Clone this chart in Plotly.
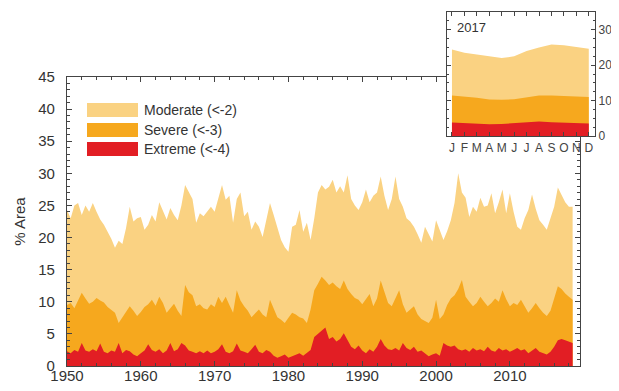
import plotly.graph_objects as go

# half-year steps from 1950.0; each row is five years (10 values)
moderate = [
    24.3, 23.0, 25.0, 25.4, 23.5, 25.0, 24.0, 25.4, 24.0, 22.8,
    22.0, 21.0, 19.8, 18.4, 19.5, 19.0, 21.5, 24.8, 22.5, 23.0,
    23.2, 21.2, 22.0, 23.5, 22.5, 25.5, 24.0, 22.8, 24.6, 23.5,
    22.7, 25.0, 28.2, 27.0, 26.0, 22.3, 23.8, 23.3, 24.0, 24.8,
    24.0, 26.0, 28.2, 25.9, 26.5, 22.3, 26.0, 27.0, 23.3, 24.0,
    21.2, 22.5, 21.7, 20.1, 22.5, 25.4, 23.5, 21.7, 19.6, 18.5,
    17.8, 21.7, 22.0, 24.3, 20.9, 22.3, 19.6, 23.0, 27.0, 28.2,
    27.5, 27.9, 29.0, 27.0, 28.0, 27.0, 29.7, 26.0, 25.0, 24.3,
    25.5, 27.5, 25.5, 26.5, 27.0, 29.5, 26.5, 24.3, 26.0, 29.5,
    26.0, 24.8, 23.0, 22.5, 21.7, 20.5, 19.2, 21.7, 20.5, 19.4,
    22.7, 21.0, 19.6, 21.0, 22.7, 25.4, 30.0, 27.0, 26.2, 23.2,
    24.8, 24.0, 26.2, 24.8, 25.0, 26.9, 23.8, 25.5, 27.5, 23.8,
    26.9, 24.0, 21.7, 21.2, 23.0, 24.3, 26.7, 24.5, 22.7, 22.0,
    21.2, 23.0, 24.8, 27.8, 26.7, 25.5, 24.8, 24.8,
]
severe = [
    9.5, 9.8, 9.0, 10.2, 11.4, 10.5, 9.7, 10.0, 10.6, 10.2,
    9.9, 9.2, 8.8, 8.3, 6.7, 7.6, 8.3, 9.3, 8.6, 7.8,
    8.4, 9.2, 9.6, 10.3, 9.4, 10.8, 9.8, 8.3, 9.0, 9.7,
    8.6, 7.8, 12.6, 11.5, 11.0, 9.3, 9.6, 9.0, 8.8, 9.6,
    9.2, 10.8, 9.8, 10.8, 9.5, 8.3, 11.8, 10.2, 9.3, 8.6,
    7.6, 8.2, 8.8, 8.0, 7.6, 10.3, 8.8, 7.6, 7.2, 6.7,
    7.5, 8.3, 8.0, 7.6, 7.4, 6.7, 8.8, 11.8, 12.8, 13.9,
    13.3, 12.6, 13.0, 12.4, 12.0, 13.3, 12.0, 11.2, 10.6, 10.3,
    9.6, 10.5, 11.2, 9.3, 10.5, 13.3, 11.5, 9.8, 9.3, 10.5,
    11.8, 9.6, 8.3, 8.8, 9.3, 8.0, 7.3, 7.0, 6.7, 7.5,
    10.3, 7.3, 8.0, 9.5, 10.5, 11.0, 12.0, 13.4, 10.8, 10.0,
    9.3, 9.8, 10.8, 10.0, 9.3, 9.8, 10.5, 10.0, 11.8, 10.4,
    9.3, 9.8, 9.5, 10.3, 9.4, 8.3, 9.0, 9.8, 9.0, 8.3,
    7.8, 8.6, 10.5, 12.4, 12.0, 11.3, 10.8, 10.3,
]
extreme = [
    2.3, 2.0, 2.5, 2.2, 3.6, 2.4, 2.2, 2.6, 2.3, 3.5,
    2.2, 2.0, 2.4, 2.2, 3.6, 2.0, 2.5, 2.3, 1.8, 1.5,
    2.0, 2.4, 3.4, 2.5, 2.2, 2.6, 2.0, 2.4, 3.6, 2.3,
    2.6, 3.6, 3.2, 2.4, 2.2, 2.0, 2.3, 2.0, 2.4, 2.0,
    2.2, 2.6, 3.4, 2.2, 2.0, 2.3, 3.5, 2.4, 2.2, 2.0,
    2.6, 3.3, 2.2, 2.0, 2.5, 2.2, 1.6, 1.3, 1.5, 1.8,
    1.3, 1.5, 1.8, 2.0, 1.6, 2.0, 2.5, 4.5, 5.0, 5.6,
    6.0, 4.2, 4.5, 3.8, 4.2, 5.1, 4.0, 3.0, 2.6, 3.2,
    2.4, 2.0, 2.6, 2.2, 3.0, 4.2, 3.2, 2.6, 2.5, 2.8,
    2.4, 3.6, 2.8, 2.5, 3.0, 2.2, 2.4, 2.0, 1.5, 1.8,
    2.0, 1.6, 3.6, 3.2, 3.0, 3.2, 2.6, 2.4, 2.6, 2.2,
    2.8, 2.4, 2.6, 2.3, 3.0, 2.4, 2.2, 2.8, 2.4, 2.6,
    2.2, 2.5, 2.8, 2.4, 2.6, 2.0, 2.4, 2.8, 2.2, 2.0,
    1.8, 2.2, 3.0, 4.0, 4.2, 4.0, 3.8, 3.6,
]
years = [1950 + 0.5 * i for i in range(len(moderate))]

months = list(range(1, 13))
month_labels = ['J', 'F', 'M', 'A', 'M', 'J', 'J', 'A', 'S', 'O', 'N', 'D']
moderate_2017 = [24.4, 23.5, 23.0, 22.5, 22.0, 22.5, 24.0, 25.0, 25.8, 25.6, 25.2, 24.6]
severe_2017 = [11.4, 11.2, 10.8, 10.3, 10.2, 10.4, 11.0, 11.4, 11.4, 11.3, 11.2, 11.0]
extreme_2017 = [3.8, 3.6, 3.4, 3.3, 3.4, 3.7, 4.0, 4.1, 3.9, 3.8, 3.6, 3.5]

names = ['Moderate (<-2)', 'Severe (<-3)', 'Extreme (<-4)']
colors = ['#FAD282', '#F6A81E', '#E21E24']

fig = go.Figure()
for ys, c in zip([moderate, severe, extreme], colors):
    fig.add_trace(go.Scatter(x=years, y=ys, fill='tozeroy', fillcolor=c, mode='lines',
                             line=dict(width=0, color=c), showlegend=False,
                             xaxis='x', yaxis='y'))
for ys, c in zip([moderate_2017, severe_2017, extreme_2017], colors):
    fig.add_trace(go.Scatter(x=months, y=ys, fill='tozeroy', fillcolor=c, mode='lines',
                             line=dict(width=0, color=c), showlegend=False,
                             xaxis='x2', yaxis='y2'))

# the page body adds an 8px margin, so the figure is 8px smaller and
# window pixel positions are shifted by 8 before turning into paper fractions
OFF = 8
W, H = 619 - OFF, 391 - OFF
def fx(x):
    return (x - OFF) / W
def fy(y):
    return 1 - (y - OFF) / H
def px(x0, x1):
    return [fx(x0), fx(x1)]
def py(top, bottom):
    return [fy(bottom), fy(top)]

axis_col = '#444'
font = dict(family='Liberation Sans, Arial, sans-serif', color='#333')

fig.update_layout(
    width=W, height=H,
    margin=dict(l=0, r=0, t=0, b=0),
    paper_bgcolor='white', plot_bgcolor='white',
    font=font,
    xaxis=dict(domain=px(67, 580), range=[1950, 2019.5], tickvals=[1950, 1960, 1970, 1980, 1990, 2000, 2010],
               ticks='inside', ticklen=5, tickcolor=axis_col, showline=True, linecolor=axis_col,
               linewidth=1.2, mirror='ticks', showgrid=False, zeroline=False,
               tickfont=dict(size=15), automargin=False, ticklabelstandoff=-4,
               minor=dict(dtick=2, ticks='inside', ticklen=3, tickcolor=axis_col)),
    yaxis=dict(domain=py(77, 366), range=[0, 45], dtick=5, ticks='inside', ticklen=5,
               tickcolor=axis_col, showline=True, linecolor=axis_col, linewidth=1.2,
               mirror='ticks', showgrid=False, zeroline=False, tickfont=dict(size=15),
               ticklabelstandoff=8,
               title=dict(text='% Area', font=dict(size=15), standoff=8), automargin=False,
               minor=dict(dtick=1, ticks='inside', ticklen=3, tickcolor=axis_col)),
    xaxis2=dict(domain=px(447, 595), range=[0.6, 12.5], anchor='y2', tickvals=months,
                ticktext=month_labels, ticks='inside', ticklen=4, tickcolor=axis_col,
                showline=True, linecolor=axis_col, linewidth=1.2, mirror='ticks',
                showgrid=False, zeroline=False, automargin=False,
                tickfont=dict(size=12, color='#444')),
    yaxis2=dict(domain=py(12, 136), range=[0, 35], anchor='x2', side='right',
                tickvals=[0, 10, 20, 30], ticks='inside', ticklen=4, tickcolor=axis_col,
                showline=True, linecolor=axis_col, linewidth=1.2, mirror='ticks',
                showgrid=False, zeroline=False, automargin=False, ticklabelstandoff=0,
                tickfont=dict(size=12, color='#444'),
                minor=dict(dtick=2.5, ticks='inside', ticklen=2, tickcolor=axis_col)),
)

# legend drawn by hand at the upper left of the main panel
legend_rows = [110, 130, 149]
for yc, c, n in zip(legend_rows, colors, names):
    fig.add_shape(type='rect', xref='paper', yref='paper',
                  x0=fx(87), x1=fx(138), y0=fy(yc + 7), y1=fy(yc - 7),
                  fillcolor=c, line=dict(width=0))
    fig.add_annotation(x=fx(142), y=fy(yc), xref='paper', yref='paper', text=n,
                       showarrow=False, xanchor='left', yanchor='middle',
                       font=dict(size=14, color='#333'))

fig.add_annotation(x=fx(455), y=fy(27), xref='paper', yref='paper', text='2017',
                   showarrow=False, xanchor='left', yanchor='middle',
                   font=dict(size=13, color='#333'))

fig.write_html('out.html')
